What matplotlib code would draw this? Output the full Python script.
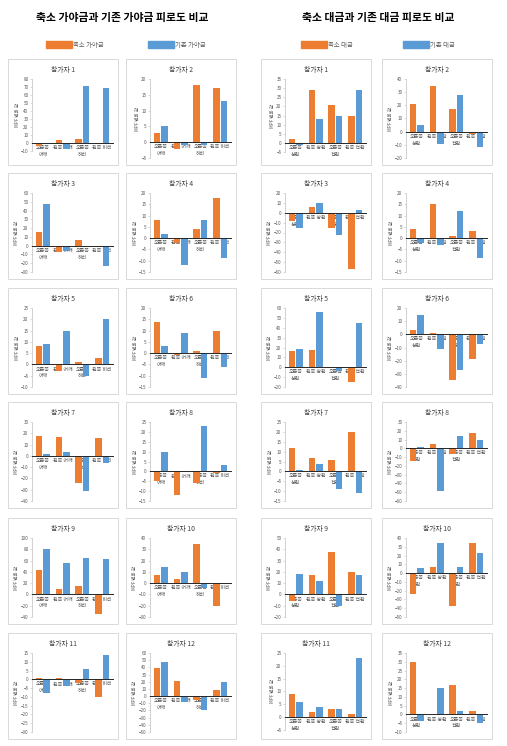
import numpy as np
import matplotlib
matplotlib.use("Agg")
import matplotlib.pyplot as plt
from matplotlib.patches import Rectangle

plt.rcParams['font.family'] = ['Noto Sans CJK KR', 'DejaVu Sans']

# 가야금 (왼쪽 그룹)
gaya_categories = ["오른쪽\n어깨", "왼쪽 어깨", "오른쪽\n허리", "왼쪽 허리"]
gaya_small = [
    [-4, 4, 5, -1], [3, -2, 18, 17],
    [16, -7, 7, -2], [8, -2, 4, 18],
    [8, -3, 1, 3], [14, -1, 1, 10],
    [18, 17, -24, 16], [-5, -12, -6, -1],
    [44, 10, 15, -34], [7, 4, 35, -20],
    [0.5, 1, -2, -10], [39, 21, -5, 8],
]
gaya_orig = [
    [-1, -7, 71, 69], [5, -1, -1, 13],
    [47, -6, -2, -23], [2, -12, 8, -9],
    [9, 15, -5, 20], [3, 9, -11, -6],
    [2, 3, -31, -6], [10, 0, 23, 3],
    [80, 55, 64, 62], [14, 10, -4, -1],
    [-8, -4, 6, 14], [48, -8, -20, 19],
]
gaya_yrange = [
    (-10, 80, 10), (-5, 20, 5),
    (-30, 60, 10), (-15, 20, 5),
    (-10, 25, 5), (-15, 20, 5),
    (-40, 30, 10), (-15, 25, 5),
    (-40, 100, 20), (-30, 40, 10),
    (-30, 15, 5), (-50, 60, 10),
]

# 대금 (오른쪽 그룹)
daeg_categories = ["오른쪽\n상완", "왼쪽 상완", "오른쪽\n전완", "왼쪽 전완"]
daeg_small = [
    [2, 29, 21, 15], [21, 35, 17, -2],
    [-8, 6, -15, -57], [4, 15, 1, 3],
    [16, 17, -1, -15], [3, 1, -35, -19],
    [12, 7, 6, 20], [-14, 5, -6, 17],
    [-6, 17, 38, 20], [-24, 7, -37, 34],
    [9, 2, 3, 1], [30, 0, 17, 2],
]
daeg_orig = [
    [-1, 13, 15, 29], [5, -9, 28, -12],
    [-15, 10, -23, 3], [-2, -3, 12, -9],
    [18, 56, -4, 45], [15, -11, -27, -7],
    [0.7, 3.7, -9, -11], [2, -49, 14, 9],
    [18, 12, -10, 17], [6, 34, 7, 23],
    [6, 4, 3, 23], [-4, 15, 2, -5],
]
daeg_yrange = [
    (-5, 35, 5), (-20, 40, 10),
    (-60, 20, 10), (-15, 20, 5),
    (-20, 60, 10), (-40, 20, 10),
    (-15, 25, 5), (-60, 30, 10),
    (-20, 50, 10), (-50, 40, 10),
    (-5, 25, 5), (-10, 35, 5),
]

ORANGE = '#ED7D31'
BLUE = '#5B9BD5'

W, H = 507, 746
fig = plt.figure(figsize=(W / 100, H / 100), dpi=100)


def box(x, y, w, h):
    return [x / W, 1 - (y + h) / H, w / W, h / H]


def draw_cell(x, y, title, cats, small, orig, yr):
    w, h = 110, 106
    fig.add_artist(Rectangle((x / W, 1 - (y + h) / H), w / W, h / H,
                             transform=fig.transFigure, fill=False,
                             ec='#d9d9d9', lw=0.7))
    fig.text((x + w / 2) / W, 1 - (y + 11) / H, title, ha='center',
             va='center', fontsize=4.9, color='#404040')
    lo, hi, step = yr
    # 0선이 너무 아래면 라벨 자리를 위해 그림 영역을 줄임 (엑셀처럼)
    frac = hi / (hi - lo)
    ah = 79
    if 20 + frac * ah > 84:
        ah = 64 / frac
    ax = fig.add_axes(box(x + 24, y + 20, 81, ah))
    # 가로축을 0 위치로 (틱 설정보다 먼저 해야 함)
    for s in ['top', 'right']:
        ax.spines[s].set_visible(False)
    ax.spines['bottom'].set_position(('data', 0))
    ax.spines['bottom'].set_color('#262626')
    ax.spines['bottom'].set_linewidth(0.7)
    ax.spines['bottom'].set_zorder(3)
    ax.spines['left'].set_color('#bfbfbf')
    ax.spines['left'].set_linewidth(0.5)

    pos = np.arange(len(cats))
    ax.bar(pos - 0.19, small, width=0.34, color=ORANGE, zorder=2)
    ax.bar(pos + 0.19, orig, width=0.34, color=BLUE, zorder=2)
    ax.set_ylim(lo, hi)
    ax.set_xlim(-0.55, len(cats) - 0.45)
    ax.set_yticks(np.arange(lo, hi + step / 2, step))
    ax.set_xticks(pos)
    ax.set_xticklabels(cats)
    ax.tick_params(axis='x', length=0, pad=1.5, labelsize=3.6,
                   labelcolor='#595959')
    ax.tick_params(axis='y', labelsize=3.3, labelcolor='#595959',
                   length=1.5, width=0.4, color='#bfbfbf', pad=1)
    for lab in ax.get_xticklabels():
        lab.set_zorder(4)
        lab.set_linespacing(1.45)
    ax.set_ylabel('MPF 변화 값', fontsize=3.3, color='#595959', labelpad=1)


rows_y = [59, 173, 288, 402, 518, 633]
left_x = [8, 126]
right_x = [261, 382]

for i in range(12):
    r, c = divmod(i, 2)
    draw_cell(left_x[c], rows_y[r], '참가자 %d' % (i + 1), gaya_categories,
              gaya_small[i], gaya_orig[i], gaya_yrange[i])
    draw_cell(right_x[c], rows_y[r], '참가자 %d' % (i + 1), daeg_categories,
              daeg_small[i], daeg_orig[i], daeg_yrange[i])

# 상단 제목과 범례
fig.text(122 / W, 1 - 18 / H, '축소 가야금과 기존 가야금 피로도 비교',
         ha='center', va='center', fontsize=7.8, fontweight='bold')
fig.text(378 / W, 1 - 18 / H, '축소 대금과 기존 대금 피로도 비교',
         ha='center', va='center', fontsize=7.8, fontweight='bold')

legend_items = [
    (46, ORANGE, '축소 가야금'), (148, BLUE, '기존 가야금'),
    (301, ORANGE, '축소 대금'), (403, BLUE, '기존 대금'),
]
for lx, col, txt in legend_items:
    fig.add_artist(Rectangle((lx / W, 1 - 48 / H), 26 / W, 7 / H,
                             transform=fig.transFigure, color=col))
    fig.text((lx + 27) / W, 1 - 44.5 / H, txt, ha='left', va='center',
             fontsize=4.6, color='#595959')

fig.savefig('out.png', dpi=100)
